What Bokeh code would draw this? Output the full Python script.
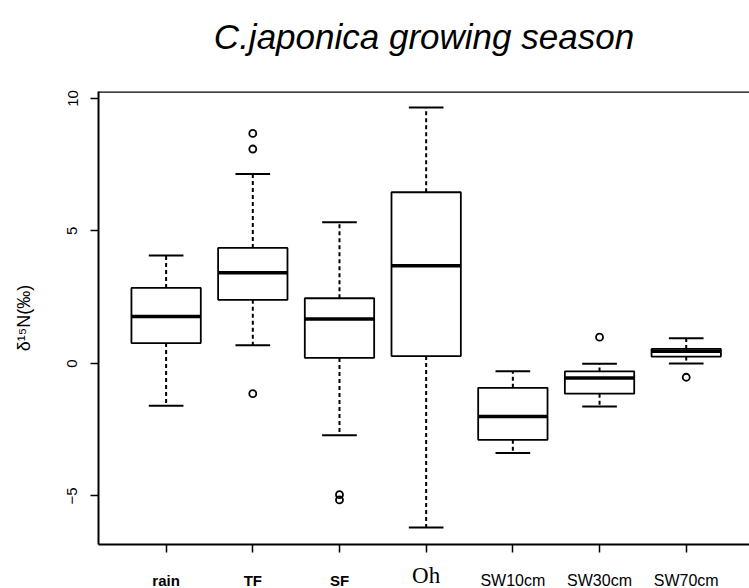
from bokeh.plotting import figure
from bokeh.models import FixedTicker, Span
from bokeh.layouts import column
from bokeh.core.properties import value
from bokeh.embed import file_html
from bokeh.resources import INLINE
from bokeh.models import ColumnDataSource

# δ15N (‰) summary per sample type: whisker ends, quartiles, median
categories = ["rain", "TF", "SF", "Oh", "SW10cm", "SW30cm", "SW70cm"]
lower_whisker = [-1.60, 0.69, -2.71, -6.19, -3.38, -1.62, 0.00]
q1 = [0.77, 2.40, 0.21, 0.28, -2.88, -1.14, 0.26]
median = [1.77, 3.42, 1.68, 3.69, -2.00, -0.55, 0.46]
q3 = [2.85, 4.36, 2.46, 6.46, -0.92, -0.30, 0.55]
upper_whisker = [4.07, 7.15, 5.33, 9.66, -0.29, -0.01, 0.95]

# outlying observations (category, value)
outlier_cat = ["TF", "TF", "TF", "SF", "SF", "SW30cm", "SW70cm"]
outlier_val = [8.68, 8.09, -1.14, -4.95, -5.15, 0.99, -0.52]

y_ticks = [-5, 0, 5, 10]
title_text = "C.japonica growing season"

BOX_W = 0.8
CAP_W = 0.4

xpos = list(range(1, len(categories) + 1))
idx = {c: i + 1 for i, c in enumerate(categories)}

box_src = ColumnDataSource(dict(
    x=xpos,
    left=[x - BOX_W / 2 for x in xpos],
    right=[x + BOX_W / 2 for x in xpos],
    cap_l=[x - CAP_W / 2 for x in xpos],
    cap_r=[x + CAP_W / 2 for x in xpos],
    lw=lower_whisker, q1=q1, med=median, q3=q3, uw=upper_whisker,
))


def strip(height, y_top, x_range):
    """Blank axis-less band sharing the main x range, for text."""
    s = figure(
        width=749, height=height, x_range=x_range, y_range=(0, y_top),
        output_backend="svg", toolbar_location=None, title=None,
        x_axis_location=None, y_axis_location=None,
        min_border_left=98, min_border_right=0,
        min_border_top=0, min_border_bottom=0,
    )
    s.xgrid.visible = False
    s.ygrid.visible = False
    s.outline_line_color = None
    s.background_fill_color = "white"
    s.border_fill_color = "white"
    return s


p = figure(
    width=749, height=471,
    x_range=(0.22, 7.73), y_range=(-6.83, 10.26),
    output_backend="svg", toolbar_location=None, title=None,
    min_border_left=98, min_border_right=0,
    min_border_top=2, min_border_bottom=16,
)
p.background_fill_color = "white"
p.border_fill_color = "white"
p.xgrid.visible = False
p.ygrid.visible = False
# box drawn on left, bottom and top; the right side runs off the page
p.outline_line_color = None
p.add_layout(Span(location=p.y_range.end, dimension="width",
                  line_color="black", line_width=2.5))

dash = "4 3"
# whiskers
p.segment(x0="x", y0="q3", x1="x", y1="uw", source=box_src,
          line_color="black", line_width=2, line_dash=dash)
p.segment(x0="x", y0="q1", x1="x", y1="lw", source=box_src,
          line_color="black", line_width=2, line_dash=dash)
# staples
p.segment(x0="cap_l", y0="uw", x1="cap_r", y1="uw", source=box_src,
          line_color="black", line_width=2)
p.segment(x0="cap_l", y0="lw", x1="cap_r", y1="lw", source=box_src,
          line_color="black", line_width=2)
# boxes
p.quad(left="left", right="right", bottom="q1", top="q3", source=box_src,
       fill_color="white", line_color="black", line_width=1.8)
# medians
p.segment(x0="left", y0="med", x1="right", y1="med", source=box_src,
          line_color="black", line_width=3.5)
# outliers
p.scatter(x=[idx[c] for c in outlier_cat], y=outlier_val, marker="circle",
          size=7, fill_color=None, line_color="black", line_width=1.8)

# y axis
yax = p.yaxis[0]
yax.ticker = FixedTicker(ticks=y_ticks)
yax.axis_line_color = "black"
yax.axis_line_width = 2
yax.major_tick_out = 8
yax.major_tick_in = 0
yax.major_tick_line_width = 1.5
yax.minor_tick_line_color = None
yax.major_label_orientation = "vertical"
yax.major_label_standoff = 13
yax.major_label_text_font = "Liberation Sans"
yax.major_label_text_font_size = "15px"
yax.major_label_text_color = "black"
yax.axis_label = "δ¹⁵N(‰)"
yax.axis_label_text_font = "Liberation Sans"
yax.axis_label_text_font_style = "normal"
yax.axis_label_text_font_size = "18px"
yax.axis_label_text_color = "black"
yax.axis_label_standoff = 31

# x axis: tick marks only, category names are set in the strip below
xax = p.xaxis[0]
xax.ticker = FixedTicker(ticks=xpos)
xax.major_label_overrides = {x: "" for x in xpos}
xax.major_label_text_font_size = "0px"
xax.major_label_standoff = 0
xax.axis_line_color = "black"
xax.axis_line_width = 2
xax.major_tick_out = 8
xax.major_tick_in = 0
xax.major_tick_line_width = 1.5
xax.minor_tick_line_color = None

# title band above the plot
top = strip(89, 89, p.x_range)
top.text(x=[(p.x_range.start + p.x_range.end) / 2], y=[53], text=[title_text],
         text_align="center", text_baseline="middle",
         text_font=value("Liberation Sans"), text_font_style="italic",
         text_font_size=value("35px"), text_color="black")

# category names below the plot
lab = strip(28, 28, p.x_range)
# (names, font, style, size, vertical centre within the strip)
label_groups = [
    (["rain", "TF", "SF"], "Liberation Sans", "bold", "15px", 8.2),
    (["Oh"], "Liberation Serif", "normal", "23px", 13.0),
    (["SW10cm", "SW30cm", "SW70cm"], "Liberation Sans", "normal", "16px", 7.6),
]
for names, font, style, size, yc in label_groups:
    lab.text(x=[idx[c] for c in names], y=[yc] * len(names), text=names,
             text_align="center", text_baseline="middle",
             text_font=value(font), text_font_style=style,
             text_font_size=value(size), text_color="black")

layout = column(top, p, lab, spacing=0)
open("out.html", "w").write(file_html(layout, INLINE))
